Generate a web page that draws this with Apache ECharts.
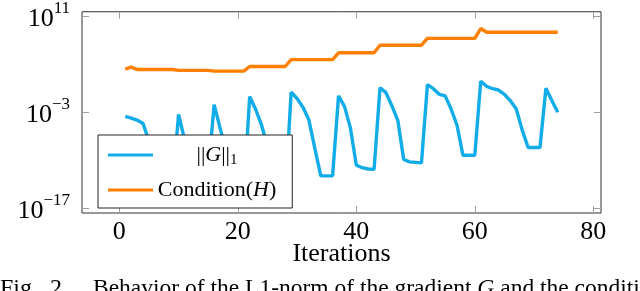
<!DOCTYPE html>
<html>
<head>
<meta charset="utf-8">
<script src="https://cdn.jsdelivr.net/npm/echarts@6/dist/echarts.min.js"></script>
<style>
html,body{margin:0;padding:0;background:#fff;}
#c{width:640px;height:291px;}
</style>
</head>
<body>
<div id="c"></div>
<script>
// x: iteration index
const iterations = [1,2,3,4,5,6,7,8,9,10,11,12,13,14,15,16,17,18,19,20,
  21,22,23,24,25,26,27,28,29,30,31,32,33,34,35,36,37,38,39,40,
  41,42,43,44,45,46,47,48,49,50,51,52,53,54,55,56,57,58,59,60,
  61,62,63,64,65,66,67,68,69,70,71,72,73,74];
// log10 of ||G||_1
const gradNormExp = [-3.66,-3.9,-4.19,-4.69,-7.2,-12.0,-14.5,-14.8,-13.8,-3.37,
  -7.0,-13.6,-14.8,-14.8,-11.9,-1.94,-5.33,-8.7,-13.5,-15.0,
  -15.2,-0.76,-2.61,-4.9,-8.0,-13.0,-15.2,-15.3,-0.11,-1.04,
  -2.33,-4.19,-8.33,-12.33,-12.33,-12.33,-0.66,-2.19,-5.33,-10.76,
  -11.14,-11.33,-11.37,0.53,-0.19,-2.09,-4.23,-9.94,-10.29,-10.36,
  -10.43,1.0,0.39,-0.43,-0.66,-2.57,-4.94,-9.33,-9.33,-9.33,
  1.49,0.74,0.39,0.2,-0.43,-1.37,-2.57,-5.66,-8.19,-8.19,
  -8.19,0.46,-1.33,-3.04];
// log10 of Condition(H)
const conditionExp = [3.24,3.53,3.2,3.2,3.2,3.2,3.2,3.2,3.2,3.06,
  3.06,3.06,3.06,3.06,3.06,2.96,2.96,2.96,2.96,2.96,
  2.96,3.63,3.63,3.63,3.63,3.63,3.63,3.63,4.63,4.63,
  4.63,4.63,4.63,4.63,4.63,4.63,5.63,5.63,5.63,5.63,
  5.63,5.63,5.63,6.74,6.74,6.74,6.74,6.74,6.74,6.74,
  6.74,7.74,7.74,7.74,7.74,7.74,7.74,7.74,7.74,7.74,
  9.17,8.63,8.63,8.63,8.63,8.63,8.63,8.63,8.63,8.63,
  8.63,8.63,8.63,8.63];
const xTicks = [0,20,40,60,80];
const yTickExps = [-17,-3,11];

const serif = 'Liberation Serif';
const chart = echarts.init(document.getElementById('c'));

function expLabel(v){
  const s = v < 0 ? '\u2212' + (-v) : String(v);
  return '{b|10}{s|' + s + '}';
}
const tickStyle = {inside:true, length:7, lineStyle:{color:'#a0a0a0', width:1}};
const noLine = {show:false, onZero:false};

const option = {
  animation:false,
  backgroundColor:'#fff',
  grid:{left:82, right:39, top:8, bottom:78, show:true, borderColor:'#333', borderWidth:1, backgroundColor:'transparent'},
  xAxis:[{
    type:'value', min:-6.3, max:81.3, position:'bottom',
    axisLine:noLine, splitLine:{show:false},
    axisTick:Object.assign({customValues:xTicks}, tickStyle),
    axisLabel:{customValues:xTicks, fontFamily:serif, fontSize:26, color:'#000', margin:6},
    name:'Iterations', nameLocation:'middle', nameGap:28, nameMoveOverlap:false,
    nameTextStyle:{fontFamily:serif, fontSize:26, color:'#000', verticalAlign:'top'}
  },{
    type:'value', min:-6.3, max:81.3, position:'top',
    axisLine:noLine, splitLine:{show:false},
    axisTick:Object.assign({customValues:xTicks}, tickStyle),
    axisLabel:{show:false}
  }],
  yAxis:[{
    type:'value', min:-17.75, max:11.62, position:'left',
    axisLine:noLine, splitLine:{show:false},
    axisTick:Object.assign({customValues:yTickExps}, tickStyle),
    axisLabel:{customValues:yTickExps, margin:12, formatter:expLabel,
      rich:{
        b:{fontFamily:serif, fontSize:26, lineHeight:32, color:'#000', verticalAlign:'bottom'},
        s:{fontFamily:serif, fontSize:17, lineHeight:17, color:'#000', verticalAlign:'top'}
      }}
  },{
    type:'value', min:-17.75, max:11.62, position:'right',
    axisLine:noLine, splitLine:{show:false},
    axisTick:Object.assign({customValues:yTickExps}, tickStyle),
    axisLabel:{show:false}
  }],
  legend:{
    orient:'vertical', left:98, top:135,
    padding:[9,16,7,10], itemGap:11, itemWidth:45, itemHeight:3,
    backgroundColor:'#fff', borderColor:'#222', borderWidth:1, borderRadius:0,
    selectedMode:false,
    textStyle:{fontFamily:serif, fontSize:22, color:'#000', width:118,
      rich:{
        n:{fontFamily:serif, fontSize:22, lineHeight:26, color:'#000', align:'center'},
        i:{fontFamily:serif, fontSize:22, lineHeight:26, fontStyle:'italic', color:'#000', align:'center'},
        sub:{fontFamily:serif, fontSize:15, lineHeight:14, color:'#000', align:'center', verticalAlign:'bottom'}
      }},
    formatter:function(name){
      if(name === 'grad') return '{n|||}{i|G}{n|||}{sub|1}';
      return '{n|Condition(}{i|H}{n|)}';
    },
    data:[{name:'grad', icon:'rect'},{name:'cond', icon:'rect'}]
  },
  graphic:[{
    type:'text', left:0, top:277, silent:true,
    style:{text:'Fig.  2.', fontFamily:serif, fontSize:24, fill:'#000'}
  },{
    type:'text', left:93, top:277, silent:true,
    style:{
      text:'{n|Behavior of the L1-norm of the gradient }{i|G}{n| and the conditi}',
      rich:{
        n:{fontFamily:serif, fontSize:23.5, fill:'#000'},
        i:{fontFamily:serif, fontSize:23.5, fontStyle:'italic', fill:'#000'}
      }
    }
  }],
  series:[{
    name:'grad', type:'line', showSymbol:false, symbol:'none', clip:true,
    lineStyle:{width:3.4, color:'#12ade8'}, itemStyle:{color:'#12ade8'},
    data:iterations.map((x,k)=>[x, gradNormExp[k]])
  },{
    name:'cond', type:'line', showSymbol:false, symbol:'none', clip:true,
    lineStyle:{width:3.4, color:'#ff8000'}, itemStyle:{color:'#ff8000'},
    data:iterations.map((x,k)=>[x, conditionExp[k]])
  }]
};
chart.setOption(option);
</script>
</body>
</html>
